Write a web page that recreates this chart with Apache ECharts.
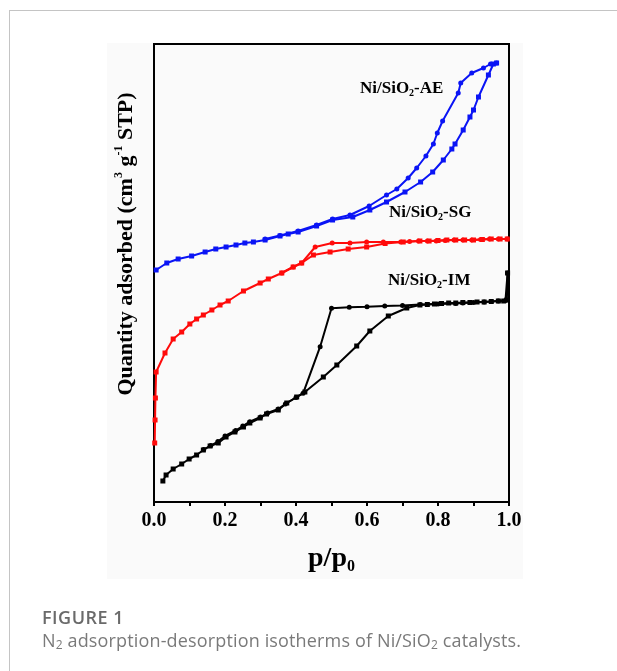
<!DOCTYPE html>
<html>
<head>
<meta charset="utf-8">
<script src="https://cdn.jsdelivr.net/npm/echarts@6/dist/echarts.min.js"></script>
<style>
  html, body { margin: 0; padding: 0; background: #fff; }
  body { width: 617px; height: 671px; position: relative; overflow: hidden; }
  .card { position: absolute; left: 9px; top: 10px; width: 700px; height: 800px; border: 1px solid #c4c4c4; }
  .panel { position: absolute; left: 107px; top: 43px; width: 416px; height: 536px; background: #fafafa; }
  #chart { position: absolute; left: 0; top: 0; width: 617px; height: 671px; }
  .cap-title { position: absolute; left: 42px; top: 605px; font-family: 'Open Sans', sans-serif; font-weight: 600; font-size: 18px; letter-spacing: 0.5px; color: #6a6a6a; }
  .cap-text { position: absolute; left: 42px; top: 628px; font-family: 'Open Sans', sans-serif; font-size: 18px; letter-spacing: 0.15px; color: #7a7a7a; white-space: nowrap; }
  .cap-text sub { font-size: 12px; vertical-align: -2px; }
</style>
</head>
<body>
<div class="card"></div>
<div class="panel"></div>
<div id="chart"></div>
<div class="cap-title">FIGURE 1</div>
<div class="cap-text">N<sub>2</sub> adsorption-desorption isotherms of Ni/SiO<sub>2</sub> catalysts.</div>
<script>
// relative pressure p/p0 and quantity adsorbed (arbitrary units)
var aeAdsP = [0.006, 0.036, 0.068, 0.106, 0.144, 0.174, 0.203, 0.231, 0.256, 0.28, 0.313, 0.355, 0.378, 0.406, 0.458, 0.503, 0.56, 0.608, 0.655, 0.707, 0.751, 0.785, 0.815, 0.839, 0.848, 0.871, 0.89, 0.9, 0.914, 0.942, 0.956, 0.965];
var aeAdsQ = [232, 239, 243, 246, 250, 253, 255, 257, 259, 260, 262, 266, 268, 270, 276, 282, 285, 292, 300, 310, 320, 330, 342, 353, 358, 372, 385, 392, 405, 427, 438, 439];
var aeDesP = [0.965, 0.948, 0.928, 0.895, 0.864, 0.857, 0.813, 0.798, 0.787, 0.766, 0.74, 0.716, 0.684, 0.655, 0.606, 0.552, 0.503, 0.458, 0.406, 0.355, 0.313];
var aeDesQ = [439, 438, 434, 429, 419, 409, 381, 369, 358, 346, 334, 324, 313, 307, 296, 287, 283, 277, 271, 266.5, 263];

var sgAdsP = [0.002, 0.003, 0.004, 0.006, 0.031, 0.054, 0.078, 0.101, 0.12, 0.139, 0.163, 0.186, 0.209, 0.252, 0.299, 0.322, 0.36, 0.392, 0.416, 0.449, 0.496, 0.547, 0.599, 0.651, 0.702, 0.749, 0.775, 0.8, 0.825, 0.85, 0.875, 0.9, 0.925, 0.95, 0.975, 0.995];
var sgAdsQ = [59, 82, 104, 130, 149, 163, 170, 178, 183, 187, 192, 197, 201, 211, 219, 223, 229, 235, 239, 247, 250, 253, 255, 258.5, 260, 261, 261, 261.5, 262, 262, 262, 262, 262.5, 263, 263, 263];
var sgDesP = [0.995, 0.97, 0.945, 0.92, 0.895, 0.87, 0.845, 0.82, 0.795, 0.77, 0.745, 0.72, 0.695, 0.646, 0.599, 0.552, 0.502, 0.454, 0.416, 0.392, 0.36];
var sgDesQ = [263, 263, 263, 262.5, 262, 262, 262, 261.5, 261, 261, 261, 260.5, 260, 260, 260, 259, 259, 255, 239, 235, 229];

var imAdsP = [0.025, 0.034, 0.054, 0.078, 0.099, 0.12, 0.139, 0.158, 0.181, 0.203, 0.228, 0.252, 0.27, 0.299, 0.317, 0.35, 0.374, 0.402, 0.425, 0.477, 0.515, 0.571, 0.608, 0.66, 0.712, 0.749, 0.77, 0.79, 0.81, 0.83, 0.85, 0.87, 0.89, 0.91, 0.93, 0.95, 0.97, 0.985, 0.994, 0.996];
var imAdsQ = [21, 27, 33, 38, 43, 47, 52, 56, 59, 65, 70, 75, 79, 84, 88, 92, 99, 105, 110, 125, 137, 156, 171, 186, 194, 197, 197.5, 198, 198.5, 199, 199, 199.5, 199.5, 200, 200, 200.5, 201, 201, 202, 229];
var imDesP = [0.996, 0.99, 0.97, 0.95, 0.93, 0.9, 0.87, 0.85, 0.8, 0.75, 0.7, 0.65, 0.6, 0.55, 0.5, 0.468, 0.42, 0.4, 0.37, 0.35, 0.32, 0.3, 0.27, 0.25, 0.23, 0.2, 0.18, 0.16, 0.14];
var imDesQ = [229, 201.5, 201, 200.5, 200, 199.5, 199, 198.5, 198, 197.5, 196.5, 196, 195.3, 194.7, 193.7, 155.3, 108.7, 104.5, 98, 93, 89, 85, 80.3, 76, 71.5, 66, 60.5, 56.5, 52.5];

var xTicks = [0, 0.2, 0.4, 0.6, 0.8, 1.0];

var serif = "'Times New Roman', 'Liberation Serif', serif";

function pairs(p, q) {
  return p.map(function (v, i) { return [v, q[i]]; });
}

function branch(name, p, q, color, symbol) {
  return {
    name: name,
    type: 'line',
    data: pairs(p, q),
    symbol: symbol,
    symbolSize: 5,
    showSymbol: true,
    lineStyle: { color: color, width: 2 },
    itemStyle: { color: color },
    z: 3
  };
}

// sample label with subscript 2
function sampleLabel(x, y, tag) {
  return {
    type: 'text', left: x, top: y,
    style: {
      text: '{a|Ni/SiO}{s|2}{a|-' + tag + '}',
      rich: {
        a: { fontFamily: serif, fontWeight: 'bold', fontSize: 17, fill: '#000', lineHeight: 20 },
        s: { fontFamily: serif, fontWeight: 'bold', fontSize: 10, fill: '#000', lineHeight: 10, verticalAlign: 'bottom' }
      }
    }
  };
}

var chart = echarts.init(document.getElementById('chart'));
var option = {
  animation: false,
  backgroundColor: 'transparent',
  grid: {
    left: 154, top: 44, width: 355, height: 458,
    show: true, borderColor: '#000', borderWidth: 2
  },
  xAxis: {
    type: 'value',
    min: 0, max: 1, interval: 0.2,
    axisLine: { show: true, lineStyle: { color: '#000', width: 2 } },
    axisTick: { show: true, length: 4, lineStyle: { color: '#000', width: 2 } },
    minorTick: { show: true, splitNumber: 2, length: 4, lineStyle: { color: '#000', width: 2 } },
    splitLine: { show: false },
    axisLabel: {
      margin: 9,
      color: '#000',
      fontFamily: serif, fontWeight: 'bold', fontSize: 20,
      formatter: function (v) { return xTicks.indexOf(+v.toFixed(1)) >= 0 ? v.toFixed(1) : ''; }
    },
    name: '{t|p/p}{sub|0}',
    nameLocation: 'middle',
    nameGap: 41,
    nameTextStyle: {
      rich: {
        t: { fontFamily: serif, fontWeight: 'bold', fontSize: 28, color: '#000', lineHeight: 32 },
        sub: { fontFamily: serif, fontWeight: 'bold', fontSize: 16, color: '#000', lineHeight: 16, verticalAlign: 'bottom' }
      }
    }
  },
  yAxis: {
    type: 'value',
    min: 0, max: 458,
    axisLine: { show: true, lineStyle: { color: '#000', width: 2 } },
    axisTick: { show: false },
    axisLabel: { show: false },
    splitLine: { show: false }
  },
  graphic: [
    {
      type: 'text', x: 126, y: 244, rotation: Math.PI / 2,
      style: {
        text: '{t|Quantity adsorbed (cm}{sup|3}{t| g}{sup|-1}{t| STP)}',
        align: 'center', verticalAlign: 'middle',
        rich: {
          t: { fontFamily: serif, fontWeight: 'bold', fontSize: 22, fill: '#000', lineHeight: 26 },
          sup: { fontFamily: serif, fontWeight: 'bold', fontSize: 12, fill: '#000', lineHeight: 12, verticalAlign: 'top' }
        }
      }
    },
    sampleLabel(360, 80, 'AE'),
    sampleLabel(389, 204, 'SG'),
    sampleLabel(388, 272, 'IM')
  ],
  series: [
    branch('AE adsorption', aeAdsP, aeAdsQ, '#0a14f5', 'rect'),
    branch('AE desorption', aeDesP, aeDesQ, '#0a14f5', 'circle'),
    branch('SG adsorption', sgAdsP, sgAdsQ, '#ff0a0a', 'rect'),
    branch('SG desorption', sgDesP, sgDesQ, '#ff0a0a', 'circle'),
    branch('IM adsorption', imAdsP, imAdsQ, '#000', 'rect'),
    branch('IM desorption', imDesP, imDesQ, '#000', 'circle')
  ]
};
chart.setOption(option);
</script>
</body>
</html>
